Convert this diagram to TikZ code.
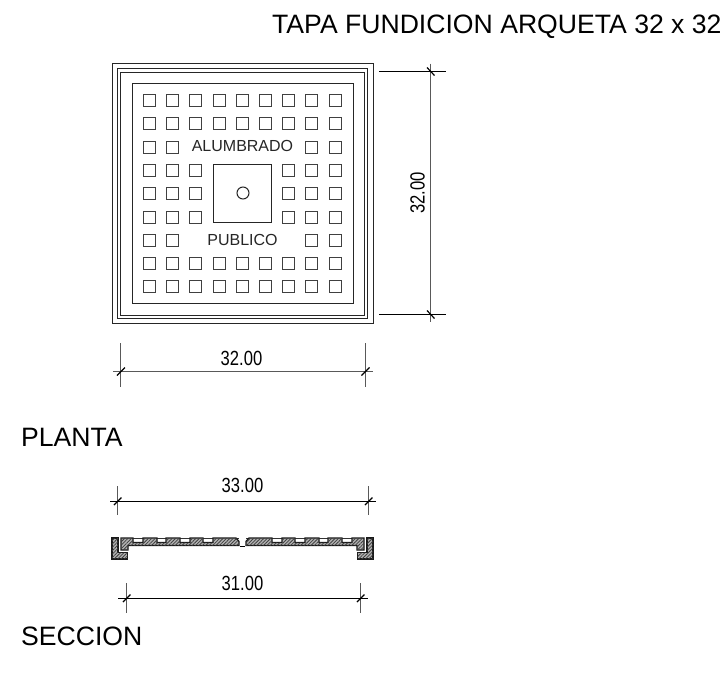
\documentclass[tikz,border=0pt]{standalone}
\usepackage{fontspec}
\setmainfont{Liberation Sans}
\usetikzlibrary{patterns.meta}
\tikzset{
  x=1pt,y=-1pt,
  outline/.style={draw=black!85,line width=1.2pt,fill=none},
  thinbox/.style={draw=black!75,line width=1.3pt,fill=none},
  dimline/.style={draw=black,line width=1.1pt},
  extline/.style={draw=black!65,line width=1.2pt},
  tick/.style={draw=black,line width=1.2pt},
  titletext/.style={inner sep=0pt,anchor=base west,font=\fontsize{26.6}{30}\selectfont},
  labeltext/.style={inner sep=0pt,font=\fontsize{16}{19}\selectfont,text=black!85},
  dimtext/.style={inner sep=0pt,font=\fontsize{20.5}{24}\selectfont},
  hatched/.style={draw=black!90,line width=1.4pt,fill=black!30,postaction={pattern={Lines[angle=45,distance=2.4pt,line width=.8pt]},pattern color=black!75}},
}
\newcommand{\dimnum}[1]{\scalebox{.81}[1]{#1}}
\newcommand{\lidhalf}{%
  \draw[draw=black!80,line width=1.2pt] (133,538.5) -- (239,538.5);
  \draw[hatched] (112,538) -- (118,538) -- (118,552.5) -- (127.5,552.5) -- (127.5,559) -- (112,559) -- cycle;
  \draw[hatched] (121,538) -- (133,538) -- (133,542.5) -- (143,542.5) -- (143,538) -- (157,538) -- (157,542.5) -- (166,542.5) -- (166,538)
     -- (180,538) -- (180,542.5) -- (190,542.5) -- (190,538) -- (203,538) -- (203,542.5) -- (213,542.5) -- (213,538) -- (236,538)
     -- (239,541.5) -- (239,545.5) -- (128,545.5) -- (128,550) -- (121,550) -- cycle;
}
\begin{document}
\begin{tikzpicture}
\useasboundingbox (0,0) rectangle (725,680);
\fill[white] (0,0) rectangle (725,680);
% plan rings
\draw[outline] (112.5,63.5) rectangle (373.5,323.5);
\draw[outline] (117.5,68.5) rectangle (367.5,318.5);
\draw[outline] (120.5,72.5) rectangle (364.5,315.5);
\draw[outline] (132.5,83.5) rectangle (353.5,303.5);
% grid of squares
\foreach \r in {0,...,8}{
  \foreach \c in {0,...,8}{
    \pgfmathtruncatemacro{\skip}{
      ((\r==2 || \r==6) && \c>=2 && \c<=6) || (\r>=3 && \r<=5 && \c>=3 && \c<=5) ? 1 : 0}
    \ifnum\skip=0
      \pgfmathsetmacro{\xa}{floor(143.5+23.2*\c)+.5}
      \pgfmathsetmacro{\ya}{floor(94.5+23.3*\r)+.5}
      \draw[thinbox] (\xa,\ya) rectangle ++(12,12);
    \fi
  }
}
\draw[outline] (213.5,164.5) rectangle (271.5,222.5);
\node[draw=black!85,line width=1pt,circle,minimum size=12pt,inner sep=0pt] (hole) at (243,193) {};
\node[labeltext] (alum) at (242.5,146) {ALUMBRADO};
\node[labeltext] (pub) at (242.5,240) {PUBLICO};
% right dimension
\coordinate (ra) at (379,71.5); \coordinate (rb) at (446,71.5);
\coordinate (rc) at (379,314.5); \coordinate (rd) at (446,314.5);
\coordinate (re) at (430.5,63.5); \coordinate (rf) at (430.5,322);
\draw[dimline] (ra) -- (rb); \draw[dimline] (rc) -- (rd);
\draw[extline] (re) -- (rf);
\draw[tick] (427,67.5) -- (434.5,75.5);
\draw[tick] (427,310.5) -- (434.5,318.5);
\node[dimtext,rotate=90] (dr) at (417.5,193) {\dimnum{32.00}};
% bottom dimension
\coordinate (ba) at (113,371.5); \coordinate (bb) at (373,371.5);
\coordinate (bc) at (120.5,343); \coordinate (bd) at (120.5,387);
\coordinate (be) at (365.5,343); \coordinate (bf) at (365.5,387);
\draw[extline] (ba) -- (bb);
\draw[extline] (bc) -- (bd); \draw[extline] (be) -- (bf);
\draw[tick] (117,375.5) -- (125,367.5);
\draw[tick] (361.5,375.5) -- (369.5,367.5);
\node[dimtext] (db) at (241.5,358) {\dimnum{32.00}};
% titles
\node[titletext] (title) at (272,33) {TAPA FUNDICION ARQUETA 32 x 32};
\node[titletext] (planta) at (21,446) {PLANTA};
\node[titletext] (seccion) at (21,645) {SECCION};
% dim 33
\coordinate (ca) at (110,501.5); \coordinate (cb) at (376,501.5);
\coordinate (cc) at (117.5,486); \coordinate (cd) at (117.5,515);
\coordinate (ce) at (368.5,486); \coordinate (cf) at (368.5,515);
\draw[dimline] (ca) -- (cb);
\draw[extline] (cc) -- (cd); \draw[extline] (ce) -- (cf);
\draw[tick] (114,505) -- (121.5,497.5);
\draw[tick] (365,505) -- (372.5,497.5);
\node[dimtext] (d33) at (242.5,485.5) {\dimnum{33.00}};
% section
\lidhalf
\begin{scope}[xshift=485pt,xscale=-1]
\lidhalf
\end{scope}
\draw[line width=1pt] (240,546) -- (245,546);
% dim 31
\coordinate (ea) at (118,598.5); \coordinate (eb) at (368,598.5);
\coordinate (ec) at (126.5,583); \coordinate (ed) at (126.5,613);
\coordinate (ee) at (360.5,583); \coordinate (ef) at (360.5,613);
\draw[dimline] (ea) -- (eb);
\draw[extline] (ec) -- (ed); \draw[extline] (ee) -- (ef);
\draw[tick] (123,602) -- (130.5,594.5);
\draw[tick] (357,602) -- (364.5,594.5);
\node[dimtext] (d31) at (242.5,583) {\dimnum{31.00}};
\end{tikzpicture}
\end{document}
